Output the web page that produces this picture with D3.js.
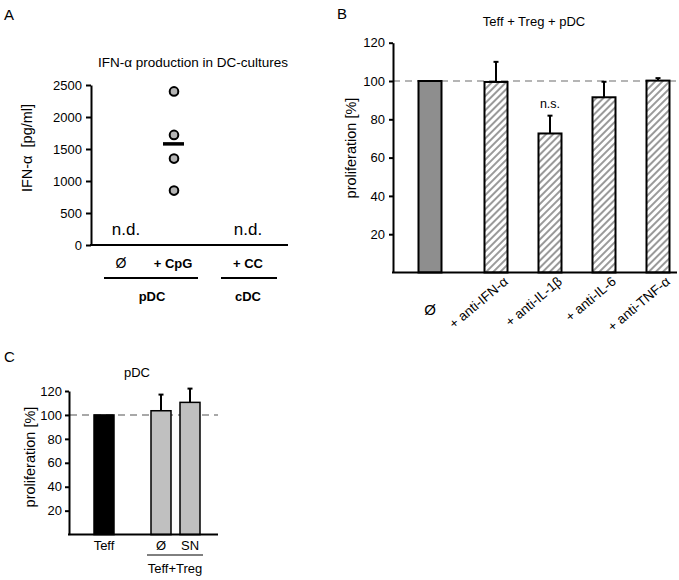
<!DOCTYPE html>
<html><head><meta charset="utf-8">
<script src="https://cdn.jsdelivr.net/npm/d3@7"></script>
<style>
body{margin:0;background:#fff;}
text{font-family:"Liberation Sans",Arial,sans-serif;fill:#000;}
</style></head>
<body>
<svg id="c" width="679" height="580"></svg>
<script>
// Panel A data
const aPoints = [2400, 1720, 1350, 850];
const aMean = 1580;
const aTicks = [0, 500, 1000, 1500, 2000, 2500];
const aCats = ["Ø", "+ CpG", "+ CC"];
const aGroups = ["pDC", "cDC"];
// Panel B data
const bCats = ["Ø", "+ anti-IFN-α", "+ anti-IL-1β", "+ anti-IL-6", "+ anti-TNF-α"];
const bVals = [100, 99.5, 72.6, 91.5, 100.2];
const bErr = [0, 10.5, 9.3, 8.1, 1.3];
const bTicks = [20, 40, 60, 80, 100, 120];
// Panel C data
const cCats = ["Teff", "Ø", "SN"];
const cVals = [100, 103.5, 110.5];
const cErr = [0, 13.5, 11.5];
const cTicks = [20, 40, 60, 80, 100, 120];

const svg = d3.select("#c");
const defs = svg.append("defs");
const pat = defs.append("pattern").attr("id","hatch").attr("patternUnits","userSpaceOnUse")
  .attr("width",5).attr("height",5).attr("patternTransform","rotate(45)");
pat.append("rect").attr("width",5).attr("height",5).attr("fill","#fff");
pat.append("line").attr("x1",1).attr("y1",0).attr("x2",1).attr("y2",5).attr("stroke","#9a9a9a").attr("stroke-width",2);

function letter(x,y,t){svg.append("text").attr("x",x).attr("y",y).attr("font-size",15).text(t);}
function styleAxis(ax){
  ax.select(".domain").attr("stroke-width",2);
  ax.selectAll(".tick line").attr("stroke-width",2);
  ax.selectAll("text").attr("font-size",13).attr("font-family","Liberation Sans, Arial");
}

// ---------- Panel A ----------
letter(4,20,"A");
{
  const y = d3.scaleLinear().domain([0,2500]).range([245,85]);
  const x = d3.scaleOrdinal().domain(aCats).range([121,173,248]);
  const g = svg.append("g");
  const ax = g.append("g").attr("transform","translate(91,0)")
    .call(d3.axisLeft(y).tickValues(aTicks).tickFormat(d3.format("d")).tickSize(5).tickPadding(4).tickSizeOuter(0));
  styleAxis(ax);
  g.append("line").attr("x1",90).attr("x2",288).attr("y1",y(0)).attr("y2",y(0)).attr("stroke","#000").attr("stroke-width",2);
  g.append("text").attr("x",193).attr("y",67).attr("text-anchor","middle").attr("font-size",13.5).text("IFN-α production in DC-cultures");
  g.append("text").attr("transform","translate(32,148) rotate(-90)").attr("text-anchor","middle").attr("font-size",14.5).text("IFN-α\u00a0\u00a0[pg/ml]");
  g.selectAll("circle.pt").data(aPoints).join("circle").attr("cx",x("+ CpG")+1).attr("cy",d=>y(d)).attr("r",4.3)
    .attr("fill","#b4b4b4").attr("stroke","#000").attr("stroke-width",2);
  g.append("line").attr("x1",163).attr("x2",184).attr("y1",y(aMean)).attr("y2",y(aMean)).attr("stroke","#000").attr("stroke-width",3.5);
  g.append("text").attr("x",126).attr("y",235).attr("text-anchor","middle").attr("font-size",17).text("n.d.");
  g.append("text").attr("x",248).attr("y",235).attr("text-anchor","middle").attr("font-size",17).text("n.d.");
  aCats.forEach((c,i)=>{
    g.append("text").attr("x",x(c)).attr("y",268).attr("text-anchor","middle")
      .attr("font-size", i===0?14:13).attr("font-weight", i===0?"normal":"bold").text(c);
  });
  g.append("line").attr("x1",104).attr("x2",198).attr("y1",278).attr("y2",278).attr("stroke","#000").attr("stroke-width",2);
  g.append("line").attr("x1",221).attr("x2",277).attr("y1",278).attr("y2",278).attr("stroke","#000").attr("stroke-width",2);
  g.append("text").attr("x",152).attr("y",301).attr("text-anchor","middle").attr("font-size",13).attr("font-weight","bold").text(aGroups[0]);
  g.append("text").attr("x",248).attr("y",301).attr("text-anchor","middle").attr("font-size",13).attr("font-weight","bold").text(aGroups[1]);
}

// ---------- Panel B ----------
letter(337,19,"B");
{
  const y = d3.scaleLinear().domain([0,120]).range([272.5,42.7]);
  const x = d3.scaleBand().domain(bCats).range([415,685]).paddingInner(0.574).paddingOuter(0.287);
  const shift = (d,i)=> i===0 ? -12 : 0;
  const cxOf = (c,i)=> x(c)+x.bandwidth()/2+shift(c,i);
  const g = svg.append("g");
  g.append("line").attr("x1",393).attr("x2",677).attr("y1",y(100)).attr("y2",y(100))
    .attr("stroke","#b5b5b5").attr("stroke-width",2).attr("stroke-dasharray","7,5");
  bCats.forEach((c,i)=>{
    if(bErr[i]>0){
      const cx = cxOf(c,i);
      g.append("line").attr("x1",cx).attr("x2",cx).attr("y1",y(bVals[i])).attr("y2",y(bVals[i]+bErr[i])).attr("stroke","#000").attr("stroke-width",2);
      g.append("line").attr("x1",cx-2.5).attr("x2",cx+2.5).attr("y1",y(bVals[i]+bErr[i])).attr("y2",y(bVals[i]+bErr[i])).attr("stroke","#000").attr("stroke-width",2);
    }
  });
  g.selectAll("rect.b").data(bCats).join("rect")
    .attr("x",(d,i)=>x(d)+shift(d,i)).attr("width",x.bandwidth())
    .attr("y",(d,i)=>y(bVals[i])).attr("height",(d,i)=>y(0)-y(bVals[i]))
    .attr("fill",(d,i)=>i===0?"#8e8e8e":"url(#hatch)").attr("stroke","#000").attr("stroke-width",2);
  const ax = g.append("g").attr("transform","translate(393,0)")
    .call(d3.axisLeft(y).tickValues(bTicks).tickSize(4).tickPadding(4).tickSizeOuter(0));
  styleAxis(ax);
  g.append("line").attr("x1",392).attr("x2",677).attr("y1",y(0)).attr("y2",y(0)).attr("stroke","#000").attr("stroke-width",2);
  g.append("text").attr("x",534).attr("y",26).attr("text-anchor","middle").attr("font-size",13).text("Teff + Treg + pDC");
  g.append("text").attr("transform","translate(356,148) rotate(-90)").attr("text-anchor","middle").attr("font-size",14.5).text("proliferation [%]");
  g.append("text").attr("x",cxOf(bCats[2],2)).attr("y",y(bVals[2]+bErr[2])-8).attr("text-anchor","middle").attr("font-size",12.5).text("n.s.");
  bCats.forEach((c,i)=>{
    const cx = cxOf(c,i);
    if(i===0){
      g.append("text").attr("x",cx).attr("y",315).attr("text-anchor","middle").attr("font-size",15).text(c);
    } else {
      g.append("text").attr("transform",`translate(${cx+13},${283}) rotate(-40)`).attr("text-anchor","end").attr("font-size",13.5).text(c);
    }
  });
}

// ---------- Panel C ----------
letter(4,362,"C");
{
  const y = d3.scaleLinear().domain([0,120]).range([534.6,391]);
  const xc = d3.scaleOrdinal().domain(cCats).range([104,161,190]);
  const bw = 20;
  const g = svg.append("g");
  g.append("line").attr("x1",70).attr("x2",218).attr("y1",y(100)).attr("y2",y(100))
    .attr("stroke","#a8a8a8").attr("stroke-width",2).attr("stroke-dasharray","7,5");
  cCats.forEach((c,i)=>{
    if(cErr[i]>0){
      const cx = xc(c);
      g.append("line").attr("x1",cx).attr("x2",cx).attr("y1",y(cVals[i])).attr("y2",y(cVals[i]+cErr[i])).attr("stroke","#000").attr("stroke-width",2);
      g.append("line").attr("x1",cx-2.5).attr("x2",cx+2.5).attr("y1",y(cVals[i]+cErr[i])).attr("y2",y(cVals[i]+cErr[i])).attr("stroke","#000").attr("stroke-width",2);
    }
  });
  g.selectAll("rect.c").data(cCats).join("rect")
    .attr("x",d=>xc(d)-bw/2).attr("width",bw)
    .attr("y",(d,i)=>y(cVals[i])).attr("height",(d,i)=>y(0)-y(cVals[i]))
    .attr("fill",(d,i)=>i===0?"#000":"#c0c0c0").attr("stroke","#000").attr("stroke-width",1.5);
  const ax = g.append("g").attr("transform","translate(69,0)")
    .call(d3.axisLeft(y).tickValues(cTicks).tickSize(4).tickPadding(3).tickSizeOuter(0));
  styleAxis(ax);
  g.append("line").attr("x1",68).attr("x2",218).attr("y1",y(0)).attr("y2",y(0)).attr("stroke","#000").attr("stroke-width",2);
  g.append("text").attr("x",137).attr("y",377).attr("text-anchor","middle").attr("font-size",13).text("pDC");
  g.append("text").attr("transform","translate(35,457) rotate(-90)").attr("text-anchor","middle").attr("font-size",14.5).text("proliferation [%]");
  cCats.forEach((c,i)=>{
    g.append("text").attr("x",xc(c)).attr("y",550).attr("text-anchor","middle").attr("font-size",13).text(c);
  });
  g.append("line").attr("x1",147).attr("x2",203).attr("y1",555).attr("y2",555).attr("stroke","#000").attr("stroke-width",1);
  g.append("text").attr("x",175).attr("y",573).attr("text-anchor","middle").attr("font-size",13).text("Teff+Treg");
}
</script>
</body></html>
